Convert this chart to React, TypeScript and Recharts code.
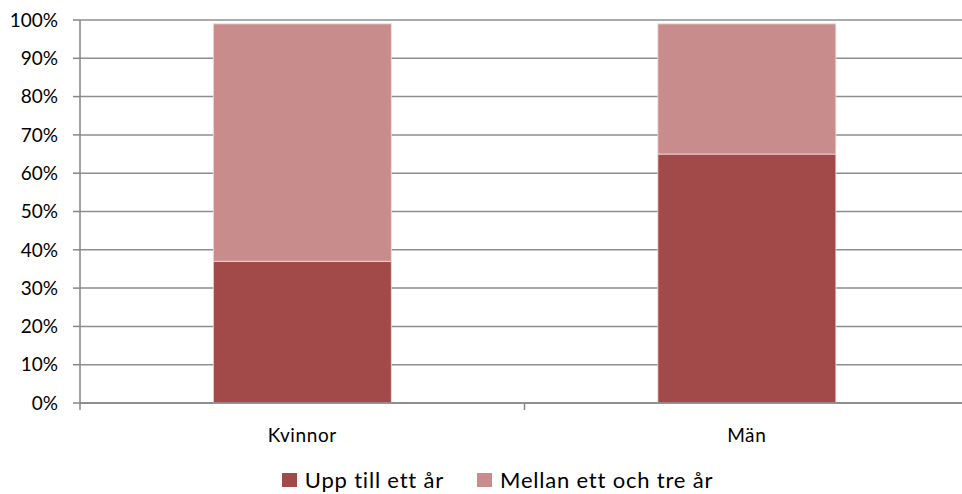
import { BarChart, Bar, XAxis, YAxis, CartesianGrid, Legend } from "recharts";

const categories = ["Kvinnor", "Män"];
const uppTillEttAr = [37, 65];
const mellanEttOchTreAr = [62, 34];
const yTicks = [0, 10, 20, 30, 40, 50, 60, 70, 80, 90, 100];

const series = [
  { key: "upp", label: "Upp till ett år", color: "#a24a4a" },
  { key: "mellan", label: "Mellan ett och tre år", color: "#c98c8c" },
];

const data = categories.map((name, i) => ({
  name,
  upp: uppTillEttAr[i],
  mellan: mellanEttOchTreAr[i],
}));

const W = 970;
const H = 494;
const LEFT = 80;
const RIGHT = 1;
const band = (W - LEFT - RIGHT) / categories.length;
const font = "Lato, 'Open Sans', sans-serif";
const axisColor = "#868686";

function XTick(props: any) {
  const { x, y, payload, index } = props;
  const left = x - band / 2;
  const isLast = index === categories.length - 1;
  return (
    <g>
      <line x1={left} x2={left} y1={y} y2={y + 7} stroke={axisColor} strokeWidth={1.5} />
      {isLast && (
        <line x1={left + band} x2={left + band} y1={y} y2={y + 7} stroke={axisColor} strokeWidth={1.5} />
      )}
      <text
        x={x}
        y={y + 39}
        textAnchor="middle"
        fill="#000"
        fontSize={19}
        fontFamily={font}
        letterSpacing={0.6}
      >
        {payload.value}
      </text>
    </g>
  );
}

function LegendContent() {
  return (
    <div
      style={{
        display: "flex",
        justifyContent: "center",
        alignItems: "center",
        paddingLeft: 26,
        fontFamily: font,
        fontSize: 22,
        letterSpacing: 0.8,
        lineHeight: "24px",
        color: "#000",
        height: 46,
        transform: "translateY(9px)",
      }}
    >
      {series.map((s, i) => (
        <div
          key={s.key}
          style={{ display: "flex", alignItems: "center", marginLeft: i === 0 ? 0 : 33 }}
        >
          <span
            style={{ width: 15, height: 14, background: s.color, marginRight: 8, display: "inline-block" }}
          />
          <span>{s.label}</span>
        </div>
      ))}
    </div>
  );
}

export default function App() {
  return (
    <div
      style={{ position: "fixed", left: 0, top: 0, width: 962, height: 494, overflow: "hidden", background: "#fff" }}
    >
      <BarChart
        width={W}
        height={H}
        data={data}
        margin={{ top: 20, right: RIGHT, left: 0, bottom: 0 }}
        barCategoryGap="30%"
      >
        <CartesianGrid vertical={false} stroke="#8e8e8e" strokeWidth={1.5} />
        <YAxis
          domain={[0, 100]}
          ticks={yTicks}
          interval={0}
          width={LEFT}
          tickFormatter={(v) => `${v}%`}
          axisLine={{ stroke: axisColor, strokeWidth: 1.5 }}
          tickLine={{ stroke: axisColor, strokeWidth: 1.5 }}
          tickSize={7}
          tickMargin={15}
          tick={{ fill: "#000", fontSize: 19, fontFamily: font }}
        />
        <XAxis
          dataKey="name"
          height={45}
          tickSize={0}
          tickMargin={0}
          tickLine={false}
          axisLine={{ stroke: axisColor, strokeWidth: 1.5 }}
          tick={<XTick />}
        />
        <Legend verticalAlign="bottom" height={46} content={<LegendContent />} />
        {series.map((s) => (
          <Bar
            key={s.key}
            dataKey={s.key}
            stackId="a"
            fill={s.color}
            stroke="#f3dede"
            strokeWidth={0.8}
            isAnimationActive={false}
          />
        ))}
      </BarChart>
    </div>
  );
}
